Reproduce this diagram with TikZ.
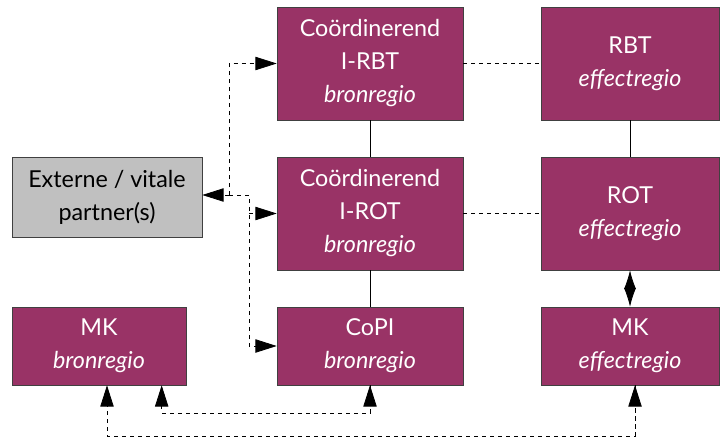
\documentclass[tikz,border=0pt]{standalone}
\usepackage{fontspec}
\setmainfont{Lato}
\usetikzlibrary{positioning,arrows.meta}
\definecolor{regiocolor}{HTML}{993366}
\definecolor{partnercolor}{HTML}{C0C0C0}
\tikzstyle{regio} = [draw=black!75, fill=regiocolor, text=white, rectangle, text centered, align=center, minimum width=139.5pt, minimum height=84.75pt, inner sep=0pt, font=\fontsize{17.5}{24.75}\selectfont]
\tikzstyle{partner} = [draw=black!75, fill=partnercolor, rectangle, align=center, minimum width=142.5pt, minimum height=60pt, inner sep=0pt, font=\fontsize{17.5}{24.75}\selectfont]
\tikzstyle{link} = [draw, dashed, line width=0.6pt, -{Triangle[length=16pt,width=10pt]}]
\tikzstyle{tie} = [draw, line width=0.6pt]

\begin{document}
\begin{tikzpicture}[x=0.75pt, y=-0.75pt, node distance = 112.5pt]
    \useasboundingbox (0,0) rectangle (720,439);
    % Place nodes
    \node [regio] at (370,63.5) (irbt) {Coördinerend\\I-RBT\\\textit{bronregio}};
    \node [regio, right of=irbt, node distance=195pt, minimum width=133.5pt] (rbt) {RBT\\\textit{effectregio}};
    \node [regio, below of=irbt] (irot) {Coördinerend\\I-ROT\\\textit{bronregio}};
    \node [regio, below of=rbt, minimum width=133.5pt] (rot) {ROT\\\textit{effectregio}};
    \node [partner] at (107,197) (partner) {Externe / vitale\\partner(s)};
    \node [regio, minimum height=58.5pt] at (370,346) (copi) {CoPI\\\textit{bronregio}};
    \node [regio, minimum height=58.5pt, minimum width=130.5pt] at (99,346) (mkbron) {MK\\\textit{bronregio}};
    \node [regio, minimum height=58.5pt, minimum width=133.5pt] at (630,346) (mkeffect) {MK\\\textit{effectregio}};
    \coordinate (split) at (229,195);
    \coordinate (splitb) at (249,195);
    \coordinate (low) at (0,413);
    % Draw edges
    \path [tie] (irbt) -- (irot);
    \path [tie] (irot) -- (copi);
    \path [tie] (rbt) -- (rot);
    \path [tie, dashed] (irbt) -- (rbt);
    \path [tie, dashed] (irot) -- (rot);
    \path [link] (split) -- (partner.east |- split);
    \path [link] (split) |- (irbt.west);
    \path [link] (split) -- (splitb) |- (copi.west);
    \path [link] (splitb |- irot.west) -- (irot.west);
    \path [draw, line width=0.6pt, {Latex[length=14pt,width=9pt]}-{Latex[length=14pt,width=9pt]}] (rot) -- (mkeffect);
    \path [link] (copi.south) -- (copi.south |- low) -| ([xshift=47pt]mkbron.south);
    \path [link] (mkeffect.south -| 635,0) -- (635,436) -| ([xshift=6pt]mkbron.south);
    \path [link] (635,436) -- (mkeffect.south -| 635,0);
    \path [link] (copi.south |- low) -- (copi.south);
\end{tikzpicture}
\end{document}
